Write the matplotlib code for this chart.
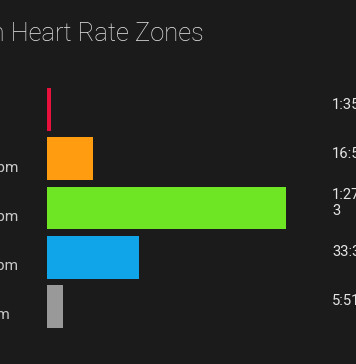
import matplotlib
matplotlib.use("Agg")
import matplotlib.pyplot as plt

# zone data, top to bottom
zones = ["Zone 5", "Zone 4", "Zone 3", "Zone 2", "Zone 1"]
zone_ranges = ["> 171 bpm", "152 - 171 bpm", "133 - 152 bpm", "114 - 133 bpm", "95 - 114 bpm"]
seconds = [95, 1012, 5263, 2015, 351]
time_labels = ["1:35", "16:52", "1:27:4\n3", "33:37", "5:51"]
colors = ["#e8103c", "#ff9c10", "#6fe623", "#10a5e8", "#999999"]

BG = "#1b1b1b"
W, H = 356, 364

plt.rcParams["font.family"] = ["Roboto", "DejaVu Sans"]

fig = plt.figure(figsize=(W / 100, H / 100), dpi=100, facecolor=BG)
# axes placed so bars start at x=47px, rows 49px apart
ax = fig.add_axes([47 / W, (H - 331) / H, (286 - 47) / W, 246 / H])
ax.set_facecolor(BG)
ax.axis("off")

ypos = list(range(len(seconds)))
ax.barh(ypos, seconds, height=0.87, color=colors, align="center")
ax.set_xlim(0, max(seconds))
ax.set_ylim(len(seconds) - 0.5, -0.5)

for i, (rng, t) in enumerate(zip(zone_ranges, time_labels)):
    ax.annotate(rng, xy=(-79 / W, i), xycoords=(fig.transFigure, ax.transData),
                xytext=(0, -13), textcoords="offset pixels",
                ha="left", va="baseline", fontsize=11, color="#c8c8c8")
    ax.annotate(t, xy=(332 / W, i), xycoords=(fig.transFigure, ax.transData),
                xytext=(0, 5), textcoords="offset pixels",
                ha="left", va="center", fontsize=10.6, color="#e4e4e4",
                linespacing=1.15)

fig.text(204 / W, (H - 41) / H, "Time in Heart Rate Zones", ha="right", va="baseline",
         fontsize=18.4, fontweight="light", color="#e8e8e8")

fig.savefig("out.png", dpi=100, facecolor=BG)
